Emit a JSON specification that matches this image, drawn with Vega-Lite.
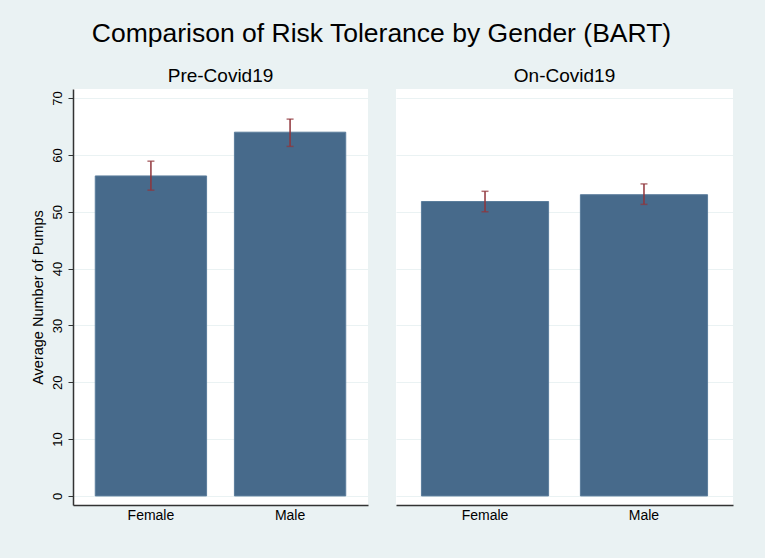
{
  "$schema": "https://vega.github.io/schema/vega-lite/v6.json",
  "background": "#EAF2F3",
  "padding": {"left": 30, "top": 20, "right": 32, "bottom": 36},
  "title": {
    "text": "Comparison of Risk Tolerance by Gender (BART)",
    "anchor": "middle",
    "fontSize": 26.5,
    "fontWeight": "normal",
    "font": "Liberation Sans",
    "color": "#000000",
    "offset": 20
  },
  "datasets": {
    "pre": [
      {"gender": "Female", "mean": 56.3, "lo": 53.8, "hi": 58.9},
      {"gender": "Male", "mean": 64.0, "lo": 61.5, "hi": 66.3}
    ],
    "on": [
      {"gender": "Female", "mean": 51.8, "lo": 50.0, "hi": 53.6},
      {"gender": "Male", "mean": 53.0, "lo": 51.3, "hi": 54.9}
    ]
  },
  "spacing": 28,
  "resolve": {"scale": {"x": "independent", "y": "independent"}},
  "hconcat": [
    {
      "width": 295,
      "height": 416,
      "title": {"text": "Pre-Covid19", "fontSize": 19, "fontWeight": "normal", "offset": 3},
      "data": {"name": "pre"},
      "encoding": {
        "x": {
          "field": "gender",
          "type": "nominal",
          "scale": {"paddingInner": 0.2, "paddingOuter": 0.16},
          "axis": {"title": null, "labelAngle": 0, "ticks": false, "labelPadding": 3, "grid": false}
        }
      },
      "layer": [
        {
          "mark": {"type": "bar", "color": "#476A8B", "stroke": "#5B7D9C", "strokeWidth": 1},
          "encoding": {
            "y": {
              "field": "mean",
              "type": "quantitative",
              "scale": {"domain": [-1.6, 71.6], "nice": false, "zero": false},
              "axis": {
                "title": "Average Number of Pumps",
                "values": [0, 10, 20, 30, 40, 50, 60, 70],
                "labelAngle": 270,
                "labelPadding": 4,
                "titlePadding": 6,
                "tickSize": 5
              }
            },
            "y2": {"datum": 0}
          }
        },
        {
          "mark": {"type": "rule", "color": "#90353B", "strokeWidth": 1.5},
          "encoding": {
            "y": {"field": "lo", "type": "quantitative"},
            "y2": {"field": "hi"}
          }
        },
        {
          "mark": {"type": "tick", "color": "#90353B", "size": 7, "thickness": 1.5, "orient": "horizontal"},
          "encoding": {"y": {"field": "lo", "type": "quantitative"}}
        },
        {
          "mark": {"type": "tick", "color": "#90353B", "size": 7, "thickness": 1.5, "orient": "horizontal"},
          "encoding": {"y": {"field": "hi", "type": "quantitative"}}
        }
      ]
    },
    {
      "width": 337,
      "height": 416,
      "title": {"text": "On-Covid19", "fontSize": 19, "fontWeight": "normal", "offset": 3},
      "data": {"name": "on"},
      "encoding": {
        "x": {
          "field": "gender",
          "type": "nominal",
          "scale": {"paddingInner": 0.2, "paddingOuter": 0.16},
          "axis": {"title": null, "labelAngle": 0, "ticks": false, "labelPadding": 3, "grid": false}
        }
      },
      "layer": [
        {
          "mark": {"type": "bar", "color": "#476A8B", "stroke": "#5B7D9C", "strokeWidth": 1},
          "encoding": {
            "y": {
              "field": "mean",
              "type": "quantitative",
              "scale": {"domain": [-1.6, 71.6], "nice": false, "zero": false},
              "axis": {
                "title": null,
                "values": [0, 10, 20, 30, 40, 50, 60, 70],
                "labels": false,
                "ticks": false,
                "domain": false,
                "minExtent": 0,
                "maxExtent": 0
              }
            },
            "y2": {"datum": 0}
          }
        },
        {
          "mark": {"type": "rule", "color": "#90353B", "strokeWidth": 1.5},
          "encoding": {
            "y": {"field": "lo", "type": "quantitative"},
            "y2": {"field": "hi"}
          }
        },
        {
          "mark": {"type": "tick", "color": "#90353B", "size": 7, "thickness": 1.5, "orient": "horizontal"},
          "encoding": {"y": {"field": "lo", "type": "quantitative"}}
        },
        {
          "mark": {"type": "tick", "color": "#90353B", "size": 7, "thickness": 1.5, "orient": "horizontal"},
          "encoding": {"y": {"field": "hi", "type": "quantitative"}}
        }
      ]
    }
  ],
  "config": {
    "font": "Liberation Sans",
    "view": {"fill": "#FFFFFF", "stroke": null},
    "title": {"color": "#000000", "font": "Liberation Sans"},
    "axis": {
      "labelFont": "Liberation Sans",
      "titleFont": "Liberation Sans",
      "labelColor": "#000000",
      "titleColor": "#000000",
      "titleFontWeight": "normal",
      "domainColor": "#333333",
      "domainWidth": 1.5,
      "tickColor": "#333333",
      "tickWidth": 1,
      "gridColor": "#EAF2F3",
      "gridWidth": 1.2
    },
    "axisX": {"labelFontSize": 14},
    "axisY": {"labelFontSize": 13, "titleFontSize": 14.5, "grid": true}
  }
}
